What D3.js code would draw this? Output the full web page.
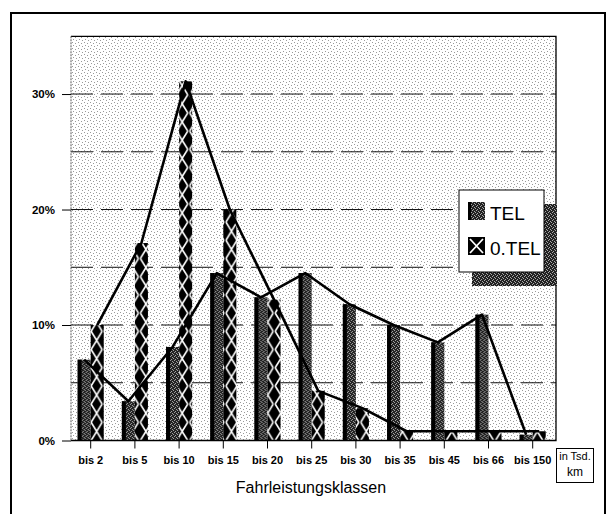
<!DOCTYPE html>
<html>
<head>
<meta charset="utf-8">
<script src="https://cdn.jsdelivr.net/npm/d3@7"></script>
<style>
    body { margin: 0; background: #fff; }
    svg { display: block; }
</style>
</head>
<body>
<svg id="chart" width="613" height="514"></svg>
<script>
const categories = ['bis 2', 'bis 5', 'bis 10', 'bis 15', 'bis 20', 'bis 25', 'bis 30', 'bis 35', 'bis 45', 'bis 66', 'bis 150'];
const seriesNames = ['TEL', '0.TEL'];
const telValues = [7.0, 3.4, 8.1, 14.5, 12.4, 14.5, 11.8, 10.0, 8.5, 10.9, 0.5];
const otelValues = [10.0, 17.1, 31.1, 20.0, 12.2, 4.3, 2.8, 0.8, 0.8, 0.8, 0.8];
const yTickValues = [0, 10, 20, 30];
const gridValues = [5, 10, 15, 20, 25, 30];

const FONT = '"Liberation Sans", Arial, sans-serif';
const NARROW = '"Liberation Sans Narrow", ' + FONT;
const plot = { left: 71, right: 556, top: 36.3, bottom: 440.5 };

const svg = d3.select('#chart');
const defs = svg.append('defs');

// halftone textures like the scanned original
function stipple(id, bg, dot, size, dots) {
    const p = defs.append('pattern')
        .attr('id', id)
        .attr('patternUnits', 'userSpaceOnUse')
        .attr('width', size)
        .attr('height', size);
    p.append('rect').attr('width', size).attr('height', size).attr('fill', bg);
    dots.forEach(([dx, dy]) => {
        p.append('rect').attr('x', dx).attr('y', dy)
            .attr('width', 1).attr('height', 1).attr('fill', dot);
    });
}
stipple('bgStipple', '#ffffff', '#9a9a9a', 6, [[0, 0], [3, 1], [1, 3], [4, 4]]);
stipple('darkStipple', '#222222', '#a8a8a8', 4, [[0, 0], [2, 1], [1, 3], [3, 2]]);

const y = d3.scaleLinear().domain([0, 35]).range([plot.bottom, plot.top]);

const x0 = d3.scaleBand()
    .domain(categories)
    .range([68.6, 554.8])
    .paddingInner(0.41)
    .paddingOuter(0.205);

const x1 = d3.scaleBand()
    .domain(seriesNames)
    .range([0, x0.bandwidth()]);

const cellH = 18.2;

// one cross-hatch tile per 0.TEL bar so the crosses line up with each bar
otelValues.forEach((v, i) => {
    const bx = x0(categories[i]) + x1('0.TEL');
    const bw = x1.bandwidth();
    const p = defs.append('pattern')
        .attr('id', 'xpat-' + i)
        .attr('patternUnits', 'userSpaceOnUse')
        .attr('x', bx).attr('y', y(0))
        .attr('width', bw).attr('height', cellH);
    p.append('rect').attr('width', bw).attr('height', cellH).attr('fill', '#000');
    p.append('path')
        .attr('d', `M1,0L${bw - 1},${cellH}M${bw - 1},0L1,${cellH}`)
        .attr('stroke', '#fff').attr('stroke-width', 1.6).attr('fill', 'none');
});

// outer frame
svg.append('rect')
    .attr('x', 11).attr('y', 13)
    .attr('width', 594).attr('height', 530)
    .attr('fill', 'none').attr('stroke', '#000').attr('stroke-width', 2);

// plot background
svg.append('rect')
    .attr('x', plot.left).attr('y', plot.top)
    .attr('width', plot.right - plot.left).attr('height', plot.bottom - plot.top)
    .attr('fill', 'url(#bgStipple)');

// dashed grid
svg.append('g')
    .selectAll('line')
    .data(gridValues)
    .join('line')
    .attr('x1', plot.left).attr('x2', plot.right)
    .attr('y1', d => y(d)).attr('y2', d => y(d))
    .attr('stroke', '#111').attr('stroke-width', 1)
    .attr('stroke-dasharray', '22,8');

// bars
const groups = svg.append('g')
    .selectAll('g')
    .data(categories)
    .join('g')
    .attr('transform', d => `translate(${x0(d)},0)`);

groups.append('rect')
    .attr('class', 'bar-tel')
    .attr('x', x1('TEL'))
    .attr('y', (d, i) => y(telValues[i]))
    .attr('width', x1.bandwidth())
    .attr('height', (d, i) => y(0) - y(telValues[i]))
    .attr('fill', 'url(#darkStipple)');

groups.append('rect')
    .attr('x', x1('TEL'))
    .attr('y', (d, i) => y(telValues[i]))
    .attr('width', 4)
    .attr('height', (d, i) => y(0) - y(telValues[i]))
    .attr('fill', '#000');

groups.append('rect')
    .attr('class', 'bar-otel')
    .attr('x', x1('0.TEL'))
    .attr('y', (d, i) => y(otelValues[i]))
    .attr('width', x1.bandwidth())
    .attr('height', (d, i) => y(0) - y(otelValues[i]))
    .attr('fill', (d, i) => `url(#xpat-${i})`);

// lines through the bar tops
const lineFor = name => d3.line()
    .x((d, i) => x0(categories[i]) + x1(name) + x1.bandwidth() / 2)
    .y(d => y(d));

svg.append('path')
    .attr('d', lineFor('0.TEL')(otelValues))
    .attr('fill', 'none').attr('stroke', '#000').attr('stroke-width', 2.6)
    .attr('stroke-linejoin', 'round');

svg.append('path')
    .attr('d', lineFor('TEL')(telValues))
    .attr('fill', 'none').attr('stroke', '#000').attr('stroke-width', 2.6)
    .attr('stroke-linejoin', 'round');

// plot border
svg.append('path')
    .attr('d', `M${plot.left},${plot.top}H${plot.right}V${plot.bottom}H${plot.left}`)
    .attr('fill', 'none').attr('stroke', '#000').attr('stroke-width', 1.3);
svg.append('line')
    .attr('x1', plot.left).attr('x2', plot.left)
    .attr('y1', plot.top).attr('y2', plot.bottom)
    .attr('stroke', '#555').attr('stroke-width', 1).attr('stroke-dasharray', '2,1');

// axes
svg.append('g')
    .attr('transform', `translate(${plot.left},0)`)
    .call(d3.axisLeft(y).tickValues(yTickValues).tickSize(9).tickPadding(7).tickFormat(d => d + '%'))
    .attr('font-family', FONT).attr('font-size', 11.5).attr('font-weight', 'bold')
    .call(g => g.select('.domain').remove());

svg.append('g')
    .attr('transform', `translate(0,${plot.bottom})`)
    .call(d3.axisBottom(x0).tickSize(8).tickPadding(8))
    .attr('font-family', FONT).attr('font-size', 11).attr('font-weight', 'bold')
    .call(g => g.select('.domain').remove());

svg.append('text')
    .attr('x', 311).attr('y', 493)
    .attr('text-anchor', 'middle')
    .attr('font-family', FONT).attr('font-size', 16)
    .text('Fahrleistungsklassen');

// unit box
const unit = svg.append('g');
unit.append('rect')
    .attr('x', 556.5).attr('y', 448.5).attr('width', 37).attr('height', 34)
    .attr('fill', '#fff').attr('stroke', '#000').attr('stroke-width', 1);
unit.append('text')
    .attr('x', 575).attr('y', 460).attr('text-anchor', 'middle')
    .attr('font-family', NARROW).attr('font-size', 11)
    .text('in Tsd.');
unit.append('text')
    .attr('x', 575).attr('y', 476).attr('text-anchor', 'middle')
    .attr('font-family', NARROW).attr('font-size', 12)
    .text('km');

// legend with drop shadow
const legend = { x: 459, y: 190, w: 85, h: 82 };
svg.append('rect')
    .attr('x', legend.x + 13).attr('y', legend.y + 14)
    .attr('width', legend.w).attr('height', legend.h)
    .attr('fill', 'url(#darkStipple)');
svg.append('rect')
    .attr('x', legend.x).attr('y', legend.y)
    .attr('width', legend.w).attr('height', legend.h)
    .attr('fill', '#fff').attr('stroke', '#000').attr('stroke-width', 1);

const items = svg.append('g')
    .selectAll('g')
    .data(seriesNames)
    .join('g')
    .attr('transform', (d, i) => `translate(${legend.x + 9},${legend.y + 12 + i * 35})`);

items.append('rect')
    .attr('width', 17).attr('height', 18)
    .attr('fill', d => d === 'TEL' ? 'url(#darkStipple)' : '#000');
items.filter(d => d === 'TEL').append('rect')
    .attr('width', 3).attr('height', 18).attr('fill', '#000');
items.filter(d => d === '0.TEL').append('path')
    .attr('d', 'M2,2L15,16M15,2L2,16')
    .attr('stroke', '#fff').attr('stroke-width', 1.8);

items.append('text')
    .attr('x', 22).attr('y', 18)
    .attr('font-family', NARROW)
    .attr('font-size', 19)
    .text(d => d);
</script>
</body>
</html>
